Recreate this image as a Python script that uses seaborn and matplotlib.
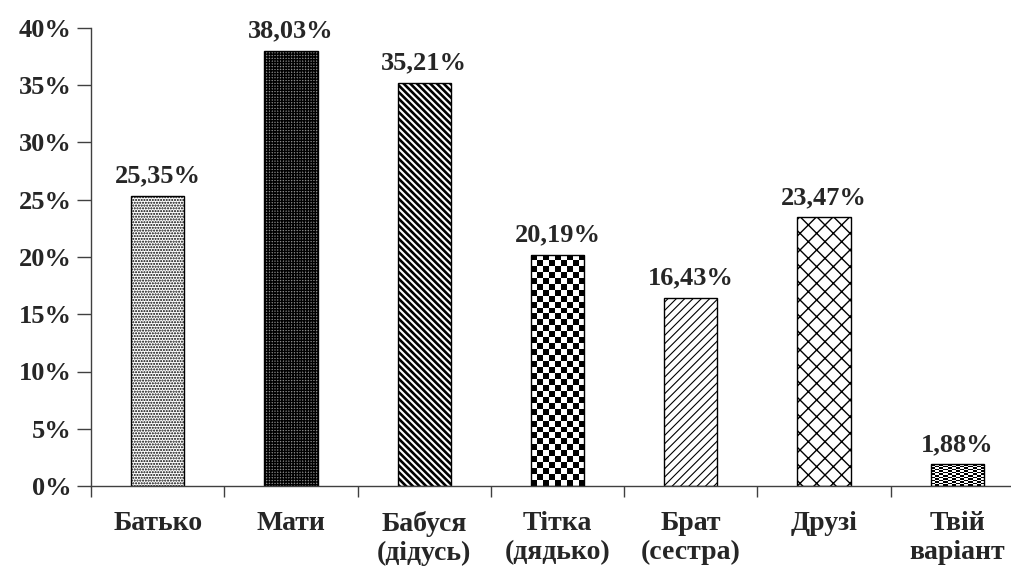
import numpy as np
import pandas as pd
import matplotlib
matplotlib.use("Agg")
import matplotlib.pyplot as plt
import seaborn as sns

# Survey shares by person
categories = ["Батько", "Мати", "Бабуся\n(дідусь)", "Тітка\n(дядько)",
              "Брат\n(сестра)", "Друзі", "Твій\nваріант"]
values = [25.35, 38.03, 35.21, 20.19, 16.43, 23.47, 1.88]
y_ticks = [0, 5, 10, 15, 20, 25, 30, 35, 40]

sns.set_theme(style="white")
plt.rcParams["font.family"] = ["Liberation Serif", "DejaVu Serif"]
plt.rcParams["font.weight"] = "bold"
plt.rcParams["hatch.linewidth"] = 1.0

df = pd.DataFrame({"who": categories, "share": values})

fig = plt.figure(figsize=(10.11, 5.67), dpi=100)
W, H = 1011, 567
ax = fig.add_axes([91 / W, 1 - 486 / H, 933 / W, (486 - 28) / H])

sns.barplot(data=df, x="who", y="share", ax=ax, width=0.4,
            color="white", edgecolor="black", linewidth=1.0,
            saturation=1, errorbar=None)

patches = list(ax.patches)
# fill textures for each bar
styles = [
    dict(hatch="......", face="white", lw=1.0),        # dotted
    dict(hatch="++++++", face="#8a8a8a", lw=1.0),      # dense dark grid
    dict(hatch="\\" * 5, face="white", lw=1.9),        # heavy diagonal stripes
    None,                                              # coarse checkerboard
    dict(hatch="////", face="white", lw=0.8),          # light slanted hatching
    dict(hatch="xx", face="white", lw=1.0),            # diamond lattice
    None,                                              # fine checkerboard
]

fig.canvas.draw()
to_px = ax.transData


def checker(patch, cell_px):
    x0, y0 = patch.get_x(), patch.get_y()
    w, h = patch.get_width(), patch.get_height()
    p0 = to_px.transform((x0, y0))
    p1 = to_px.transform((x0 + w, y0 + h))
    nx = max(1, int(round(abs(p1[0] - p0[0]) / cell_px)))
    ny = max(1, int(round(abs(p1[1] - p0[1]) / cell_px)))
    grid = (np.indices((ny, nx)).sum(axis=0) % 2).astype(float)
    im = ax.imshow(grid, cmap="gray", extent=(x0, x0 + w, y0, y0 + h),
                   interpolation="nearest", aspect="auto",
                   zorder=patch.get_zorder() - 0.1, vmin=0, vmax=1)
    im.set_clip_path(patch)


for p, st in zip(patches, styles):
    if st is None:
        continue
    p.set_facecolor(st["face"])
    p.set_hatch(st["hatch"])
    if hasattr(p, "set_hatch_linewidth"):
        p.set_hatch_linewidth(st["lw"])

checker(patches[3], 6.0)
checker(patches[6], 3.0)
for i in (3, 6):
    patches[i].set_facecolor("none")
    patches[i].set_zorder(3)

ax.set_xlim(-0.5, 6.5)
ax.set_ylim(0, 40)
ax.set_yticks(y_ticks)
ax.set_yticklabels([f"{t}%" for t in y_ticks], fontsize=19, fontweight="bold")

# category boundary ticks with labels centred between them
ax.set_xticks(np.arange(-0.5, 7, 1))
ax.set_xticklabels([])
ax.set_xticks(range(7), minor=True)
ax.set_xticklabels(categories, minor=True, fontsize=20, fontweight="bold",
                   linespacing=1.2, va="top")
ax.tick_params(axis="x", which="major", direction="out", length=8, width=1,
               color="#404040", bottom=True)
ax.tick_params(axis="x", which="minor", length=0, pad=18)
ax.tick_params(axis="y", direction="out", length=10, width=1, color="#404040",
               left=True, pad=4)
ax.set_xlabel("")
ax.set_ylabel("")

for side in ("top", "right"):
    ax.spines[side].set_visible(False)
for side in ("left", "bottom"):
    ax.spines[side].set_color("#404040")
    ax.spines[side].set_linewidth(1.0)

for p, v in zip(patches, values):
    ax.annotate(f"{v:.2f}%".replace(".", ","),
                (p.get_x() + p.get_width() / 2, v),
                xytext=(0, 6), textcoords="offset points",
                ha="center", va="bottom", fontsize=19, fontweight="bold",
                annotation_clip=False)

fig.savefig("out.png", dpi=100)
